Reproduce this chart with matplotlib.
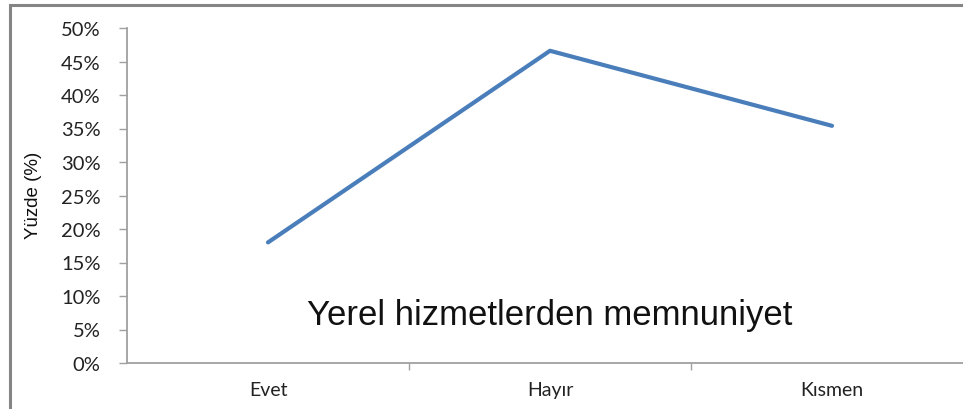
import numpy as np
import matplotlib.pyplot as plt
from matplotlib.patches import Rectangle
from matplotlib.ticker import FixedLocator, NullFormatter, FixedFormatter

# data
categories = ["Evet", "Hayır", "Kısmen"]
values = [18.0, 46.6, 35.4]
y_ticks = [0, 5, 10, 15, 20, 25, 30, 35, 40, 45, 50]
y_labels = [f"{v}%" for v in y_ticks]

fig = plt.figure(figsize=(9.63, 4.10), dpi=100)
ax = fig.add_axes([127 / 963, 1 - 364 / 410, 846 / 963, 335 / 410])

x = np.arange(len(categories))
ax.plot(x, values, color="#4a7ebb", linewidth=3.0, solid_capstyle="round")

ax.set_xlim(-0.5, len(categories) - 0.5)
ax.set_ylim(0, 50)

# y axis
ax.yaxis.set_major_locator(FixedLocator(y_ticks))
ax.yaxis.set_major_formatter(FixedFormatter(y_labels))
ax.tick_params(axis="y", which="major", direction="out", length=6, width=1,
               color="#a0a0a0", pad=13, labelsize=14.5, labelcolor="#222222")
for t in ax.get_yticklabels():
    t.set_fontfamily("Lato")

# x axis: ticks between categories, labels at centers
ax.xaxis.set_major_locator(FixedLocator([0.5, 1.5]))
ax.xaxis.set_major_formatter(NullFormatter())
ax.xaxis.set_minor_locator(FixedLocator(x))
ax.xaxis.set_minor_formatter(FixedFormatter(categories))
ax.tick_params(axis="x", which="major", direction="out", length=5, width=1,
               color="#a0a0a0")
ax.tick_params(axis="x", which="minor", length=0, pad=13, labelsize=14,
               labelcolor="#222222")
for t in ax.get_xticklabels(minor=True):
    t.set_fontfamily("Lato")

for s in ["top", "right"]:
    ax.spines[s].set_visible(False)
for s in ["left", "bottom"]:
    ax.spines[s].set_color("#a0a0a0")
    ax.spines[s].set_linewidth(1.3)

# title inside the plot area
fig.text(550 / 963, 1 - 316 / 410, "Yerel hizmetlerden memnuniyet",
         ha="center", va="center", fontsize=25, family="Liberation Sans",
         color="#111111")

# y axis label
fig.text(33 / 963, 1 - 195 / 410, "Yüzde (%)", rotation=90, ha="center",
         va="center", fontsize=13.5, family="Liberation Sans", color="#111111")

# outer chart border
fig.patches.append(Rectangle((10 / 963, -0.05), 1.1, 1 - 6 / 410 + 0.05,
                             transform=fig.transFigure, fill=False,
                             edgecolor="#858585", linewidth=2.2))

fig.savefig("out.png", dpi=100)
